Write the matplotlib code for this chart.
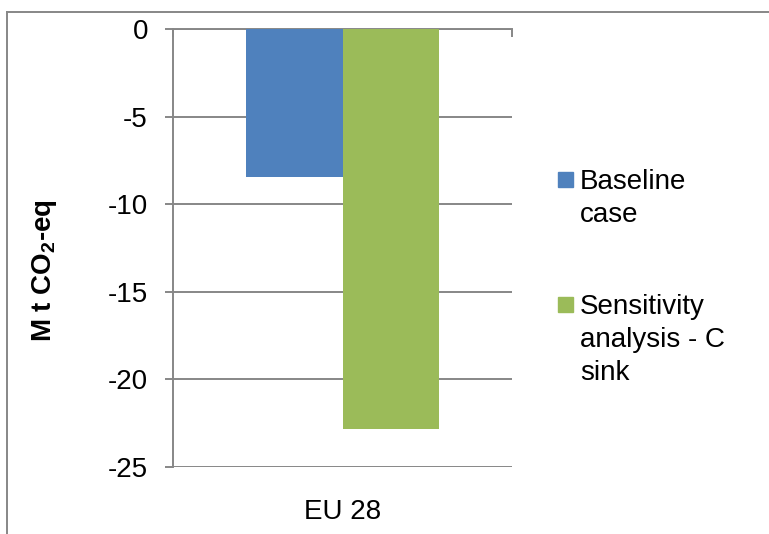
import matplotlib
matplotlib.use("Agg")
import matplotlib.pyplot as plt
from matplotlib.lines import Line2D
from matplotlib.patches import Rectangle

plt.rcParams['font.family'] = ['Liberation Sans', 'DejaVu Sans']
plt.rcParams['mathtext.fontset'] = 'custom'
plt.rcParams['mathtext.rm'] = 'Liberation Sans'
plt.rcParams['mathtext.bf'] = 'Liberation Sans:bold'

# Data
categories = ["EU 28"]
series_names = ["Baseline\ncase", "Sensitivity\nanalysis - C\nsink"]
baseline = [-8.45]
sensitivity = [-22.85]
yticks = [0, -5, -10, -15, -20, -25]

colors = ["#4F81BD", "#9BBB59"]
grid_gray = "#878787"
fs = 20

W, H = 769, 534
fig = plt.figure(figsize=(W / 100, H / 100), dpi=100)
ax = fig.add_axes([173 / W, 1 - 467 / H, (512 - 173) / W, (467 - 29) / H])

bar_w = 0.2857  # gap width 150 %
for i, cat in enumerate(categories):
    ax.bar(i - bar_w / 2, baseline[i], width=bar_w, color=colors[0], zorder=3)
    ax.bar(i + bar_w / 2, sensitivity[i], width=bar_w, color=colors[1], zorder=3)

ax.set_xlim(-0.5, 0.5)
ax.set_ylim(-25, 0)
ax.set_yticks(yticks)
ax.set_yticklabels([str(v) for v in yticks])
ax.yaxis.grid(True, color=grid_gray, linewidth=1.4, zorder=0)
ax.set_axisbelow(True)

for side in ["right", "bottom"]:
    ax.spines[side].set_visible(False)
for side in ["left", "top"]:
    ax.spines[side].set_color(grid_gray)
    ax.spines[side].set_linewidth(1.4)

ax.tick_params(axis='y', direction='out', length=6, width=1.4, color=grid_gray,
               labelsize=fs, pad=12)
# category axis sits at zero, boundary tick marks point down into the plot
ax.xaxis.tick_top()
ax.set_xticks([-0.5, 0.5])
ax.tick_params(axis='x', direction='in', length=6, width=1.4, color=grid_gray,
               labeltop=False, labelbottom=False)
for i, cat in enumerate(categories):
    ax.text(i, -(512 - 467) / 438, cat, transform=ax.get_xaxis_transform(),
            ha='center', va='center', fontsize=fs)

ax.set_ylabel(r'M t CO$_\mathbf{2}$-eq', fontsize=20, fontweight='bold')
ax.yaxis.set_label_coords((59 - 173) / (512 - 173), (467 - 271) / 438)

# legend
legend_y = [172, 297]
for name, col, y in zip(series_names, colors, legend_y):
    fig.add_artist(Rectangle((558 / W, 1 - (y + 15) / H), 15 / W, 15 / H,
                             transform=fig.transFigure, color=col))
    fig.text(580 / W, 1 - (y - 3) / H, name, ha='left', va='top', fontsize=fs,
             linespacing=1.35)

# outer chart frame
fig.add_artist(Line2D([7 / W, 1], [1 - 12 / H, 1 - 12 / H], color=grid_gray,
                      linewidth=1.4, transform=fig.transFigure))
fig.add_artist(Line2D([7 / W, 7 / W], [0, 1 - 12 / H], color=grid_gray,
                      linewidth=1.4, transform=fig.transFigure))

fig.savefig("out.png", dpi=100)
